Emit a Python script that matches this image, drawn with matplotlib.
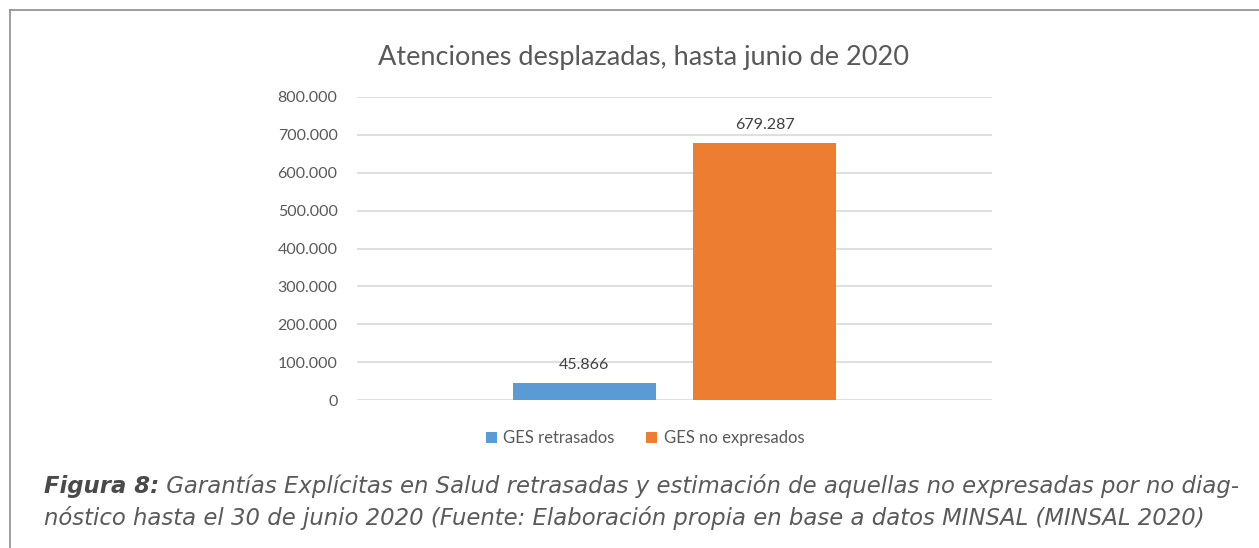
import numpy as np
import matplotlib
matplotlib.use("Agg")
import matplotlib.pyplot as plt
from matplotlib.lines import Line2D
from matplotlib.ticker import FuncFormatter

# --- data ---
series = ["GES retrasados", "GES no expresados"]
values = [45866, 679287]
colors = ["#5B9BD5", "#ED7D31"]
yticks = [0, 100000, 200000, 300000, 400000, 500000, 600000, 700000, 800000]
title = "Atenciones desplazadas, hasta junio de 2020"
caption_bold = "Figura 8:"
caption_1 = " Garantías Explícitas en Salud retrasadas y estimación de aquellas no expresadas por no diag-"
caption_2 = "nóstico hasta el 30 de junio 2020 (Fuente: Elaboración propia en base a datos MINSAL (MINSAL 2020)"


def dotted(v, pos=None):
    return f"{int(v):,}".replace(",", ".")


plt.rcParams['font.family'] = ['Lato', 'DejaVu Sans']
cap_font = ["DejaVu Sans"]

W, H = 1259, 548
fig = plt.figure(figsize=(W / 100, H / 100), dpi=100)
fig.patch.set_facecolor("white")

# chart area, pixel-measured
ax = fig.add_axes([357 / W, 1 - 400 / H, 635 / W, 303 / H])

# two bars side by side in one category
bar_w = 1.0
gap = 0.265
x = np.array([-1, 1]) * (bar_w + gap) / 2
bars = ax.bar(x, values, width=bar_w, color=colors, label=series, zorder=3)
for xi, v in zip(x, values):
    ax.annotate(dotted(v), xy=(xi, v), xytext=(0, 8), textcoords="offset points",
                ha="center", va="bottom", fontsize=11.5, color="#404040")

ax.set_xlim(-2.22, 2.22)
ax.set_ylim(0, 800000)
ax.set_yticks(yticks)
ax.yaxis.set_major_formatter(FuncFormatter(dotted))
ax.set_xticks([])
ax.tick_params(axis="y", length=0, pad=14, labelsize=11.5, labelcolor="#595959")
ax.grid(axis="y", color="#D9D9D9", linewidth=1.2, zorder=0)
for s in ax.spines.values():
    s.set_visible(False)

fig.text(643 / W, 1 - 57 / H, title, ha="center", va="center",
         fontsize=19.5, color="#595959")

fig.legend(bars, series, loc="center", bbox_to_anchor=(645 / W, 1 - 438 / H),
           ncol=2, frameon=False, fontsize=12, handlelength=0.65,
           handleheight=0.65, handletextpad=0.4, columnspacing=1.9,
           labelcolor="#595959")

# caption below chart
cap_size = 16.4
t1 = fig.text(44 / W, 1 - 493 / H, caption_bold, ha="left", va="baseline",
              fontsize=cap_size, style="italic", weight="bold", color="#4A4A4A",
              family=cap_font)
ax.annotate(caption_1, xy=(1, 0), xycoords=t1, ha="left", va="bottom",
            fontsize=cap_size, style="italic", color="#5A5A5A",
            family=cap_font, annotation_clip=False)
fig.text(44 / W, 1 - 525 / H, caption_2, ha="left", va="baseline",
         fontsize=cap_size, style="italic", color="#5A5A5A", family=cap_font)

# outer frame (left and top edges)
fig.add_artist(Line2D([9.5 / W, 9.5 / W], [0, 1 - 9.5 / H],
                      transform=fig.transFigure, color="#8C8C8C", linewidth=1.2))
fig.add_artist(Line2D([9.5 / W, 1], [1 - 9.5 / H, 1 - 9.5 / H],
                      transform=fig.transFigure, color="#8C8C8C", linewidth=1.2))

fig.savefig("out.png", dpi=100, facecolor="white")
